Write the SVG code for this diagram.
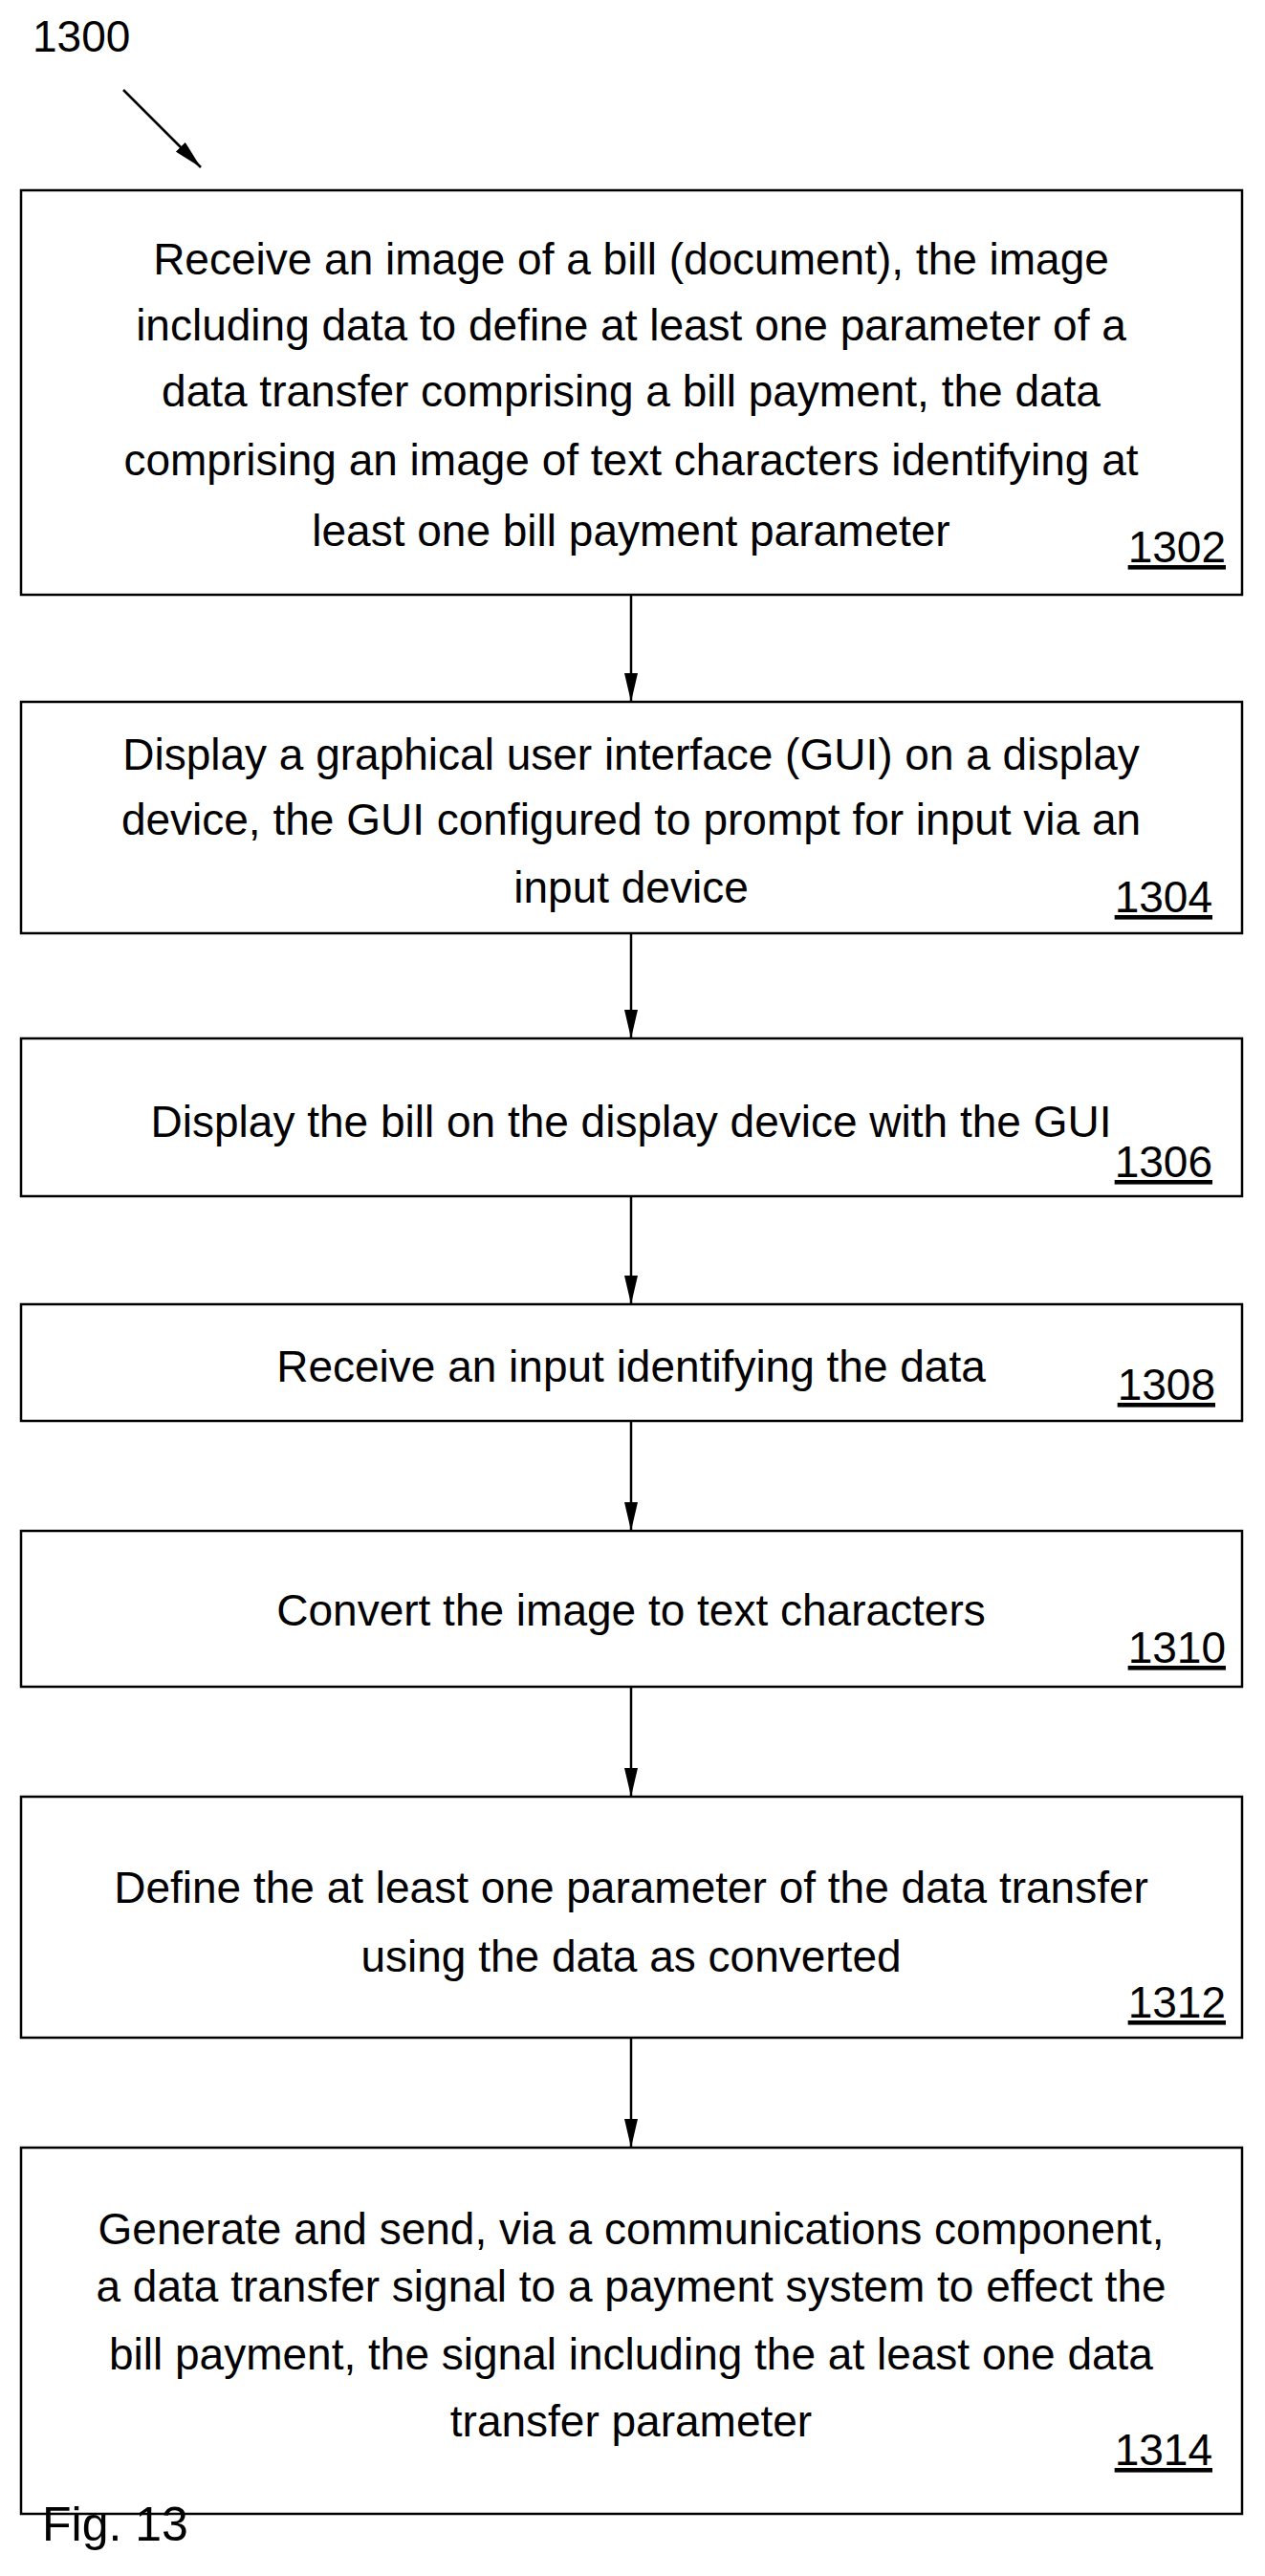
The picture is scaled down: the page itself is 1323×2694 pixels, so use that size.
<svg xmlns="http://www.w3.org/2000/svg" width="1323" height="2694" viewBox="0 0 1323 2694">
<style>
.b{fill:#fff;stroke:#000;stroke-width:2.5}
text{font-family:"Liberation Sans",Arial,sans-serif;font-size:46px;fill:#000}
.c{text-anchor:middle}
.r{text-anchor:end;text-decoration:underline}
</style>
<defs>
<marker id="h" viewBox="0 0 30 14" refX="30" refY="7" markerWidth="30" markerHeight="14" orient="auto" markerUnits="userSpaceOnUse"><path d="M0,0 L30,7 L0,14 Z" fill="#000"/></marker></defs>
<text x="34" y="54">1300</text>
<g id="connectors" stroke="#000" stroke-width="2.5">
<line x1="129" y1="94" x2="210" y2="175" marker-end="url(#h)"/>
<line x1="660" y1="622" x2="660" y2="734" marker-end="url(#h)"/>
<line x1="660" y1="976" x2="660" y2="1086" marker-end="url(#h)"/>
<line x1="660" y1="1251" x2="660" y2="1364" marker-end="url(#h)"/>
<line x1="660" y1="1486" x2="660" y2="1601" marker-end="url(#h)"/>
<line x1="660" y1="1764" x2="660" y2="1879" marker-end="url(#h)"/>
<line x1="660" y1="2131" x2="660" y2="2246" marker-end="url(#h)"/>
</g>
<g id="n1302"><rect class="b" x="22" y="199" width="1277" height="423"/>
<text class="c" x="660" y="287">Receive an image of a bill (document), the image</text>
<text class="c" x="660" y="356">including data to define at least one parameter of a</text>
<text class="c" x="660" y="425">data transfer comprising a bill payment, the data</text>
<text class="c" x="660" y="497">comprising an image of text characters identifying at</text>
<text class="c" x="660" y="571">least one bill payment parameter</text>
<text class="r" x="1282" y="588">1302</text></g>
<g id="n1304"><rect class="b" x="22" y="734" width="1277" height="242"/>
<text class="c" x="660" y="805">Display a graphical user interface (GUI) on a display</text>
<text class="c" x="660" y="873">device, the GUI configured to prompt for input via an</text>
<text class="c" x="660" y="944">input device</text>
<text class="r" x="1268" y="954">1304</text></g>
<g id="n1306"><rect class="b" x="22" y="1086" width="1277" height="165"/>
<text class="c" x="660" y="1189">Display the bill on the display device with the GUI</text>
<text class="r" x="1268" y="1231">1306</text></g>
<g id="n1308"><rect class="b" x="22" y="1364" width="1277" height="122"/>
<text class="c" x="660" y="1445">Receive an input identifying the data</text>
<text class="r" x="1271" y="1464">1308</text></g>
<g id="n1310"><rect class="b" x="22" y="1601" width="1277" height="163"/>
<text class="c" x="660" y="1700">Convert the image to text characters</text>
<text class="r" x="1282" y="1739">1310</text></g>
<g id="n1312"><rect class="b" x="22" y="1879" width="1277" height="252"/>
<text class="c" x="660" y="1990">Define the at least one parameter of the data transfer</text>
<text class="c" x="660" y="2062">using the data as converted</text>
<text class="r" x="1282" y="2110">1312</text></g>
<g id="n1314"><rect class="b" x="22" y="2246" width="1277" height="383"/>
<text class="c" x="660" y="2347">Generate and send, via a communications component,</text>
<text class="c" x="660" y="2407">a data transfer signal to a payment system to effect the</text>
<text class="c" x="660" y="2478">bill payment, the signal including the at least one data</text>
<text class="c" x="660" y="2548">transfer parameter</text>
<text class="r" x="1268" y="2578">1314</text></g>
<text x="44" y="2657" style="font-size:50px">Fig. 13</text>
</svg>
